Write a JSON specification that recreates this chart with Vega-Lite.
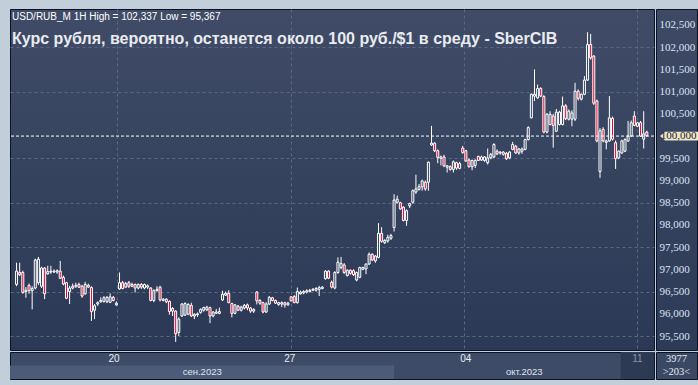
{
  "$schema": "https://vega.github.io/schema/vega-lite/v6.json",
  "background": "#c3cedb",
  "padding": {"left": 9, "top": 8, "right": 4, "bottom": 8},
  "config": {"font": "Liberation Sans", "view": {"stroke": "#0b1222"}, "concat": {"spacing": 0}},
  "title": {
    "text": "USD/RUB_M 1H High = 102,337 Low = 95,367",
    "subtitle": "Курс рубля, вероятно, останется около 100 руб./$1 в среду - SberCIB",
    "anchor": "start", "frame": "group", "orient": "top", "offset": -38, "dx": 2,
    "font": "Liberation Sans", "fontSize": 10, "fontWeight": "normal", "color": "#ffffff",
    "subtitleFont": "Liberation Sans", "subtitleFontSize": 16, "subtitleFontWeight": "bold",
    "subtitleColor": "#e9ebf0", "subtitlePadding": 9
  },
  "spacing": 0,
  "datasets": {
    "candles": [
      {"i":0,"o":96.66,"h":97.15,"l":96.62,"c":96.96},
      {"i":1,"o":96.93,"h":97.15,"l":96.85,"c":96.88},
      {"i":2,"o":96.93,"h":96.97,"l":96.45,"c":96.48},
      {"i":3,"o":96.50,"h":96.60,"l":96.36,"c":96.53},
      {"i":4,"o":96.64,"h":96.68,"l":96.45,"c":96.52},
      {"i":5,"o":96.52,"h":96.62,"l":96.10,"c":96.57},
      {"i":6,"o":96.58,"h":97.24,"l":96.55,"c":97.21},
      {"i":7,"o":96.70,"h":97.28,"l":96.65,"c":97.23},
      {"i":8,"o":96.62,"h":97.06,"l":96.58,"c":97.03},
      {"i":9,"o":97.03,"h":97.05,"l":96.33,"c":96.45},
      {"i":10,"o":96.90,"h":97.08,"l":96.88,"c":96.95},
      {"i":11,"o":96.94,"h":97.08,"l":96.90,"c":96.96},
      {"i":12,"o":96.96,"h":97.00,"l":96.92,"c":96.94},
      {"i":13,"o":96.94,"h":97.00,"l":96.90,"c":96.97},
      {"i":14,"o":96.96,"h":97.19,"l":96.78,"c":96.80},
      {"i":15,"o":96.82,"h":96.86,"l":96.64,"c":96.67},
      {"i":16,"o":96.70,"h":96.72,"l":96.33,"c":96.35},
      {"i":17,"o":96.50,"h":96.63,"l":96.22,"c":96.58},
      {"i":18,"o":96.58,"h":96.68,"l":96.55,"c":96.62},
      {"i":19,"o":96.62,"h":96.70,"l":96.58,"c":96.64},
      {"i":20,"o":96.66,"h":96.70,"l":96.58,"c":96.60},
      {"i":21,"o":96.62,"h":96.65,"l":96.36,"c":96.40},
      {"i":22,"o":96.45,"h":96.72,"l":96.43,"c":96.66},
      {"i":23,"o":96.64,"h":96.68,"l":96.58,"c":96.60},
      {"i":24,"o":96.59,"h":96.62,"l":95.84,"c":96.05},
      {"i":25,"o":96.08,"h":96.22,"l":95.88,"c":96.18},
      {"i":26,"o":96.22,"h":96.28,"l":96.18,"c":96.25},
      {"i":27,"o":96.30,"h":96.37,"l":96.25,"c":96.27},
      {"i":28,"o":96.28,"h":96.40,"l":96.25,"c":96.36},
      {"i":29,"o":96.27,"h":96.40,"l":96.24,"c":96.37},
      {"i":30,"o":96.26,"h":96.46,"l":96.24,"c":96.38},
      {"i":31,"o":96.37,"h":96.40,"l":96.28,"c":96.30},
      {"i":32,"o":96.24,"h":96.28,"l":96.18,"c":96.20},
      {"i":33,"o":96.56,"h":96.93,"l":96.54,"c":96.70},
      {"i":34,"o":96.70,"h":96.74,"l":96.55,"c":96.57},
      {"i":35,"o":96.60,"h":96.72,"l":96.58,"c":96.68},
      {"i":36,"o":96.70,"h":96.74,"l":96.58,"c":96.62},
      {"i":37,"o":96.62,"h":96.70,"l":96.60,"c":96.66},
      {"i":38,"o":96.66,"h":96.68,"l":96.48,"c":96.58},
      {"i":39,"o":96.58,"h":96.68,"l":96.55,"c":96.66},
      {"i":40,"o":96.66,"h":96.69,"l":96.56,"c":96.60},
      {"i":41,"o":96.58,"h":96.68,"l":96.55,"c":96.66},
      {"i":42,"o":96.60,"h":96.66,"l":96.56,"c":96.63},
      {"i":43,"o":96.58,"h":96.60,"l":96.28,"c":96.30},
      {"i":44,"o":96.30,"h":96.55,"l":96.26,"c":96.52},
      {"i":45,"o":96.52,"h":96.62,"l":96.50,"c":96.55},
      {"i":46,"o":96.60,"h":96.63,"l":96.28,"c":96.31},
      {"i":47,"o":96.30,"h":96.35,"l":96.28,"c":96.33},
      {"i":48,"o":96.33,"h":96.35,"l":96.24,"c":96.27},
      {"i":49,"o":96.28,"h":96.30,"l":95.98,"c":96.05},
      {"i":50,"o":96.12,"h":96.15,"l":95.95,"c":96.06},
      {"i":51,"o":96.06,"h":96.08,"l":95.367,"c":95.55},
      {"i":52,"o":95.58,"h":95.92,"l":95.50,"c":95.88},
      {"i":53,"o":95.95,"h":96.24,"l":95.93,"c":96.22},
      {"i":54,"o":95.97,"h":96.26,"l":95.95,"c":96.23},
      {"i":55,"o":95.99,"h":96.24,"l":95.97,"c":96.21},
      {"i":56,"o":96.19,"h":96.25,"l":95.93,"c":95.95},
      {"i":57,"o":95.95,"h":96.01,"l":95.88,"c":95.99},
      {"i":58,"o":95.98,"h":96.03,"l":95.93,"c":96.00},
      {"i":59,"o":96.03,"h":96.12,"l":96.00,"c":96.10},
      {"i":60,"o":96.08,"h":96.16,"l":96.05,"c":96.14},
      {"i":61,"o":96.09,"h":96.18,"l":96.06,"c":96.15},
      {"i":62,"o":96.14,"h":96.16,"l":95.79,"c":95.95},
      {"i":63,"o":95.95,"h":96.06,"l":95.92,"c":96.04},
      {"i":64,"o":96.04,"h":96.11,"l":96.00,"c":96.01},
      {"i":65,"o":96.01,"h":96.14,"l":95.99,"c":96.05},
      {"i":66,"o":96.31,"h":96.52,"l":96.29,"c":96.44},
      {"i":67,"o":96.42,"h":96.50,"l":96.40,"c":96.46},
      {"i":68,"o":96.46,"h":96.53,"l":96.24,"c":96.25},
      {"i":69,"o":96.23,"h":96.25,"l":95.92,"c":96.01},
      {"i":70,"o":96.01,"h":96.22,"l":95.99,"c":96.20},
      {"i":71,"o":96.17,"h":96.20,"l":96.06,"c":96.08},
      {"i":72,"o":96.08,"h":96.18,"l":96.05,"c":96.15},
      {"i":73,"o":96.13,"h":96.22,"l":96.10,"c":96.19},
      {"i":74,"o":96.20,"h":96.23,"l":96.08,"c":96.13},
      {"i":75,"o":96.13,"h":96.15,"l":96.02,"c":96.06},
      {"i":76,"o":96.06,"h":96.12,"l":96.02,"c":96.10},
      {"i":77,"o":96.49,"h":96.51,"l":96.21,"c":96.29},
      {"i":78,"o":96.30,"h":96.33,"l":96.20,"c":96.24},
      {"i":79,"o":96.25,"h":96.27,"l":96.01,"c":96.04},
      {"i":80,"o":96.04,"h":96.26,"l":96.02,"c":96.22},
      {"i":81,"o":96.22,"h":96.40,"l":96.20,"c":96.37},
      {"i":82,"o":96.36,"h":96.38,"l":96.28,"c":96.30},
      {"i":83,"o":96.30,"h":96.32,"l":96.22,"c":96.24},
      {"i":84,"o":96.21,"h":96.27,"l":96.18,"c":96.25},
      {"i":85,"o":96.22,"h":96.28,"l":96.15,"c":96.25},
      {"i":86,"o":96.25,"h":96.27,"l":96.14,"c":96.20},
      {"i":87,"o":96.20,"h":96.27,"l":96.18,"c":96.24},
      {"i":88,"o":96.38,"h":96.40,"l":96.28,"c":96.29},
      {"i":89,"o":96.39,"h":96.42,"l":96.24,"c":96.25},
      {"i":90,"o":96.25,"h":96.59,"l":96.23,"c":96.50},
      {"i":91,"o":96.45,"h":96.52,"l":96.43,"c":96.49},
      {"i":92,"o":96.47,"h":96.53,"l":96.44,"c":96.50},
      {"i":93,"o":96.49,"h":96.55,"l":96.46,"c":96.52},
      {"i":94,"o":96.50,"h":96.56,"l":96.48,"c":96.53},
      {"i":95,"o":96.55,"h":96.58,"l":96.51,"c":96.53},
      {"i":96,"o":96.53,"h":96.60,"l":96.50,"c":96.57},
      {"i":97,"o":96.55,"h":96.63,"l":96.40,"c":96.59},
      {"i":98,"o":96.57,"h":96.62,"l":96.55,"c":96.60},
      {"i":99,"o":96.79,"h":96.98,"l":96.77,"c":96.96},
      {"i":100,"o":96.96,"h":96.98,"l":96.78,"c":96.80},
      {"i":101,"o":96.71,"h":96.75,"l":96.57,"c":96.60},
      {"i":102,"o":96.58,"h":96.96,"l":96.55,"c":96.93},
      {"i":103,"o":96.93,"h":97.27,"l":96.90,"c":97.16},
      {"i":104,"o":97.04,"h":97.28,"l":97.00,"c":97.13},
      {"i":105,"o":97.10,"h":97.14,"l":96.90,"c":96.93},
      {"i":106,"o":96.86,"h":97.00,"l":96.84,"c":96.98},
      {"i":107,"o":96.98,"h":97.00,"l":96.88,"c":96.91},
      {"i":108,"o":96.97,"h":97.00,"l":96.85,"c":96.88},
      {"i":109,"o":96.76,"h":96.95,"l":96.73,"c":96.93},
      {"i":110,"o":96.82,"h":97.06,"l":96.80,"c":97.04},
      {"i":111,"o":97.00,"h":97.06,"l":96.98,"c":97.04},
      {"i":112,"o":97.01,"h":97.13,"l":96.89,"c":97.12},
      {"i":113,"o":97.12,"h":97.38,"l":97.10,"c":97.34},
      {"i":114,"o":97.34,"h":97.36,"l":97.19,"c":97.21},
      {"i":115,"o":97.19,"h":97.32,"l":97.15,"c":97.30},
      {"i":116,"o":97.27,"h":98.04,"l":97.25,"c":97.81},
      {"i":117,"o":97.81,"h":97.95,"l":97.60,"c":97.63},
      {"i":118,"o":97.60,"h":97.68,"l":97.57,"c":97.65},
      {"i":119,"o":97.64,"h":97.78,"l":97.60,"c":97.72},
      {"i":120,"o":97.70,"h":97.80,"l":97.66,"c":97.76},
      {"i":121,"o":97.94,"h":98.69,"l":97.85,"c":98.56},
      {"i":122,"o":98.51,"h":98.66,"l":98.48,"c":98.58},
      {"i":123,"o":98.50,"h":98.52,"l":98.34,"c":98.36},
      {"i":124,"o":98.40,"h":98.42,"l":98.08,"c":98.10},
      {"i":125,"o":98.10,"h":98.35,"l":97.98,"c":98.32},
      {"i":126,"o":98.43,"h":98.50,"l":98.38,"c":98.48},
      {"i":127,"o":98.51,"h":98.80,"l":98.48,"c":98.77},
      {"i":128,"o":98.74,"h":99.13,"l":98.70,"c":98.81},
      {"i":129,"o":98.80,"h":98.92,"l":98.77,"c":98.86},
      {"i":130,"o":98.86,"h":99.02,"l":98.77,"c":98.99},
      {"i":131,"o":98.96,"h":99.00,"l":98.77,"c":98.81},
      {"i":132,"o":98.96,"h":99.43,"l":98.77,"c":99.41},
      {"i":133,"o":99.80,"h":100.23,"l":99.78,"c":99.84},
      {"i":134,"o":99.84,"h":99.86,"l":99.64,"c":99.67},
      {"i":135,"o":99.67,"h":99.70,"l":99.39,"c":99.52},
      {"i":136,"o":99.50,"h":99.56,"l":99.34,"c":99.53},
      {"i":137,"o":99.53,"h":99.58,"l":99.30,"c":99.33},
      {"i":138,"o":99.30,"h":99.35,"l":99.18,"c":99.33},
      {"i":139,"o":99.31,"h":99.34,"l":99.22,"c":99.25},
      {"i":140,"o":99.25,"h":99.45,"l":99.18,"c":99.42},
      {"i":141,"o":99.40,"h":99.42,"l":99.24,"c":99.28},
      {"i":142,"o":99.27,"h":99.42,"l":99.25,"c":99.38},
      {"i":143,"o":99.73,"h":99.78,"l":99.60,"c":99.63},
      {"i":144,"o":99.67,"h":99.69,"l":99.42,"c":99.44},
      {"i":145,"o":99.46,"h":99.50,"l":99.29,"c":99.31},
      {"i":146,"o":99.31,"h":99.47,"l":99.23,"c":99.45},
      {"i":147,"o":99.34,"h":99.48,"l":99.28,"c":99.45},
      {"i":148,"o":99.54,"h":99.56,"l":99.44,"c":99.45},
      {"i":149,"o":99.46,"h":99.56,"l":99.44,"c":99.53},
      {"i":150,"o":99.45,"h":99.55,"l":99.42,"c":99.53},
      {"i":151,"o":99.40,"h":99.72,"l":99.36,"c":99.51},
      {"i":152,"o":99.51,"h":99.62,"l":99.48,"c":99.59},
      {"i":153,"o":99.53,"h":99.84,"l":99.50,"c":99.81},
      {"i":154,"o":99.66,"h":99.70,"l":99.57,"c":99.60},
      {"i":155,"o":99.62,"h":99.66,"l":99.58,"c":99.64},
      {"i":156,"o":99.59,"h":99.66,"l":99.56,"c":99.64},
      {"i":157,"o":99.61,"h":99.64,"l":99.46,"c":99.49},
      {"i":158,"o":99.51,"h":99.66,"l":99.48,"c":99.64},
      {"i":159,"o":99.70,"h":99.87,"l":99.68,"c":99.81},
      {"i":160,"o":99.77,"h":99.80,"l":99.60,"c":99.62},
      {"i":161,"o":99.62,"h":99.73,"l":99.58,"c":99.71},
      {"i":162,"o":99.66,"h":99.74,"l":99.60,"c":99.71},
      {"i":163,"o":99.70,"h":99.94,"l":99.68,"c":99.92},
      {"i":164,"o":99.92,"h":100.22,"l":99.90,"c":100.19},
      {"i":165,"o":100.41,"h":100.96,"l":100.40,"c":100.94},
      {"i":166,"o":100.90,"h":101.50,"l":100.79,"c":100.94},
      {"i":167,"o":100.86,"h":101.16,"l":100.84,"c":101.07},
      {"i":168,"o":101.07,"h":101.10,"l":100.88,"c":100.90},
      {"i":169,"o":100.89,"h":100.92,"l":100.06,"c":100.09},
      {"i":170,"o":100.09,"h":100.52,"l":100.06,"c":100.49},
      {"i":171,"o":100.26,"h":100.56,"l":100.24,"c":100.49},
      {"i":172,"o":100.45,"h":100.50,"l":99.74,"c":100.24},
      {"i":173,"o":100.11,"h":100.61,"l":100.09,"c":100.54},
      {"i":174,"o":100.26,"h":100.57,"l":100.24,"c":100.54},
      {"i":175,"o":100.26,"h":100.89,"l":100.24,"c":100.68},
      {"i":176,"o":100.68,"h":100.72,"l":100.36,"c":100.39},
      {"i":177,"o":100.38,"h":100.60,"l":100.35,"c":100.56},
      {"i":178,"o":100.38,"h":100.58,"l":100.22,"c":100.52},
      {"i":179,"o":100.38,"h":101.20,"l":100.34,"c":101.01},
      {"i":180,"o":101.01,"h":101.05,"l":100.80,"c":100.85},
      {"i":181,"o":100.83,"h":100.96,"l":100.80,"c":100.94},
      {"i":182,"o":100.94,"h":101.35,"l":100.92,"c":101.26},
      {"i":183,"o":101.26,"h":102.337,"l":101.24,"c":102.06},
      {"i":184,"o":102.06,"h":102.30,"l":101.72,"c":101.76},
      {"i":185,"o":101.80,"h":101.82,"l":100.70,"c":100.74},
      {"i":186,"o":100.79,"h":100.82,"l":99.86,"c":99.89},
      {"i":187,"o":99.20,"h":100.18,"l":99.06,"c":100.12},
      {"i":188,"o":100.15,"h":100.20,"l":99.86,"c":99.89},
      {"i":189,"o":99.86,"h":99.92,"l":99.70,"c":99.89},
      {"i":190,"o":99.89,"h":100.90,"l":99.87,"c":100.41},
      {"i":191,"o":100.40,"h":100.44,"l":99.90,"c":99.93},
      {"i":192,"o":99.85,"h":99.90,"l":99.26,"c":99.49},
      {"i":193,"o":99.51,"h":99.68,"l":99.48,"c":99.66},
      {"i":194,"o":99.62,"h":99.92,"l":99.60,"c":99.89},
      {"i":195,"o":99.66,"h":99.95,"l":99.64,"c":99.92},
      {"i":196,"o":99.89,"h":100.34,"l":99.87,"c":100.00},
      {"i":197,"o":100.00,"h":100.35,"l":99.98,"c":100.30},
      {"i":198,"o":100.45,"h":100.56,"l":100.22,"c":100.24},
      {"i":199,"o":100.22,"h":100.32,"l":100.20,"c":100.30},
      {"i":200,"o":100.30,"h":100.34,"l":99.98,"c":100.00},
      {"i":201,"o":99.93,"h":100.56,"l":99.72,"c":100.05},
      {"i":202,"o":100.09,"h":100.12,"l":99.98,"c":100.01}
    ],
    "months": [
      {"m": "сен.2023", "start": -0.5, "end": 120.8, "row": "month"},
      {"m": "окт.2023", "start": 120.8, "end": 202.7, "row": "month"}
    ],
    "weeks": [
      {"d": "20", "pos": 32.3, "row": "day"},
      {"d": "27", "pos": 87.8, "row": "day"},
      {"d": "04", "pos": 143.3, "row": "day"}
    ],
    "today": [
      {"d": "11", "start": 192.2, "end": 202.7, "row": "day"}
    ],
    "info": [
      {"t": "3977", "row": "day"},
      {"t": ">203<", "row": "month"}
    ]
  },
  "vconcat": [
    {
      "spacing": 0,
      "hconcat": [
        {
          "width": 644,
          "height": 341,
          "view": {
            "fill": {"gradient": "linear", "x1": 0, "y1": 0, "x2": 0, "y2": 1,
              "stops": [{"offset": 0, "color": "#404c67"}, {"offset": 1, "color": "#2b3956"}]},
            "stroke": "#0b1222"
          },
          "layer": [
            {
              "data": {"name": "candles"},
              "mark": {"type": "rule", "color": "#ffffff", "strokeWidth": 1},
              "encoding": {
                "x": {"field": "i", "type": "quantitative",
                  "scale": {"domain": [-0.5, 202.7], "nice": false, "zero": false},
                  "axis": {"values": [32.3, 87.8, 143.3, 198.9], "grid": true, "gridColor": "#5a6883",
                    "gridDash": [3, 3], "labels": false, "ticks": false, "domain": false, "title": null}},
                "y": {"field": "l", "type": "quantitative",
                  "scale": {"domain": [95.185, 102.86], "nice": false, "zero": false},
                  "axis": {"title": null,
                    "values": [95.5, 96, 96.5, 97, 97.5, 98, 98.5, 99, 99.5, 100.5, 101, 101.5, 102, 102.5],
                    "grid": true, "gridColor": "#5a6883", "gridDash": [3, 3],
                    "ticks": false, "domain": false, "labels": false}},
                "y2": {"field": "h"}
              }
            },
            {
              "data": {"name": "candles"},
              "mark": {"type": "bar", "size": 2, "stroke": "#ffffff", "strokeWidth": 1},
              "encoding": {
                "x": {"field": "i", "type": "quantitative"},
                "y": {"field": "o", "type": "quantitative"},
                "y2": {"field": "c"},
                "fill": {"condition": {"test": "datum.c < datum.o", "value": "#e3002b"}, "value": "#34425f"}
              }
            },
            {
              "data": {"values": [{}]},
              "mark": {"type": "rule", "color": "#ffffff", "strokeDash": [3, 2], "strokeWidth": 1},
              "encoding": {"y": {"datum": 100}}
            }
          ]
        },
        {
          "width": 41,
          "height": 341,
          "view": {
            "fill": {"gradient": "linear", "x1": 0, "y1": 0, "x2": 0, "y2": 1,
              "stops": [{"offset": 0, "color": "#3e4a65"}, {"offset": 1, "color": "#2d3b58"}]},
            "stroke": "#0b1222"
          },
          "data": {"values": [{}]},
          "encoding": {
            "y": {"datum": 100, "type": "quantitative",
              "scale": {"domain": [95.185, 102.86], "nice": false, "zero": false},
              "axis": {"title": null, "orient": "left", "offset": -3, "labelAlign": "left",
                "labelPadding": 0, "ticks": false, "domain": false, "grid": false,
                "labelOverlap": false, "labelFlush": false, "labelSeparation": 0,
                "values": [95.5, 96, 96.5, 97, 97.5, 98, 98.5, 99, 99.5, 100.5, 101, 101.5, 102, 102.5],
                "labelColor": "#dbe4f3", "labelFontSize": 11, "labelFont": "Liberation Sans Narrow",
                "labelExpr": "replace(format(datum.value, '.3f'), '.', ',')"}}
          },
          "layer": [
            {
              "mark": {"type": "point", "shape": "M-0.825,0L-0.575,-0.22L1.08,-0.22L1.08,0.22L-0.575,0.22Z",
                "filled": true, "color": "#efe6c0", "size": 1600, "opacity": 1, "strokeWidth": 0}
            },
            {
              "mark": {"type": "text", "text": "100,000", "align": "center", "baseline": "middle", "dx": 2,
                "fontSize": 11, "font": "Liberation Sans Narrow", "color": "#142041"}
            }
          ]
        }
      ]
    },
    {
      "spacing": 0,
      "hconcat": [
        {
          "width": 644,
          "height": 27,
          "view": {"fill": "#3e4b67", "stroke": "#0b1222"},
          "layer": [
            {
              "data": {"name": "months"},
              "mark": {"type": "rect"},
              "encoding": {
                "x": {"field": "start", "type": "quantitative",
                  "scale": {"domain": [-0.5, 202.7], "nice": false, "zero": false}, "axis": null},
                "x2": {"field": "end"},
                "y": {"field": "row", "type": "nominal",
                  "scale": {"domain": ["day", "month"], "paddingInner": 0, "paddingOuter": 0}, "axis": null},
                "fill": {"field": "m", "type": "nominal",
                  "scale": {"domain": ["сен.2023", "окт.2023"], "range": ["#4c5b78", "#3e4b67"]}, "legend": null}
              }
            },
            {
              "data": {"name": "today"},
              "mark": {"type": "rect", "color": "#2d3a54"},
              "encoding": {
                "x": {"field": "start", "type": "quantitative"},
                "x2": {"field": "end"}
              }
            },
            {
              "data": {"name": "months"},
              "transform": [{"calculate": "(datum.start + datum.end) / 2", "as": "mid"}],
              "mark": {"type": "text", "color": "#dfe5ee", "fontSize": 9.5},
              "encoding": {
                "x": {"field": "mid", "type": "quantitative"},
                "y": {"field": "row", "type": "nominal"},
                "text": {"field": "m"}
              }
            },
            {
              "data": {"name": "weeks"},
              "mark": {"type": "text", "color": "#e6ebf2", "fontSize": 10},
              "encoding": {
                "x": {"field": "pos", "type": "quantitative"},
                "y": {"field": "row", "type": "nominal"},
                "text": {"field": "d"}
              }
            },
            {
              "data": {"name": "today"},
              "transform": [{"calculate": "(datum.start + datum.end) / 2", "as": "mid"}],
              "mark": {"type": "text", "color": "#8994a8", "fontSize": 10},
              "encoding": {
                "x": {"field": "mid", "type": "quantitative"},
                "y": {"field": "row", "type": "nominal"},
                "text": {"field": "d"}
              }
            }
          ]
        },
        {
          "width": 41,
          "height": 27,
          "view": {"fill": "#3b4864", "stroke": "#0b1222"},
          "data": {"name": "info"},
          "mark": {"type": "text", "color": "#e6ebf2", "fontSize": 10.5, "font": "Liberation Sans Narrow"},
          "encoding": {
            "y": {"field": "row", "type": "nominal",
              "scale": {"domain": ["day", "month"], "paddingInner": 0, "paddingOuter": 0}, "axis": null},
            "text": {"field": "t"}
          }
        }
      ]
    }
  ]
}
